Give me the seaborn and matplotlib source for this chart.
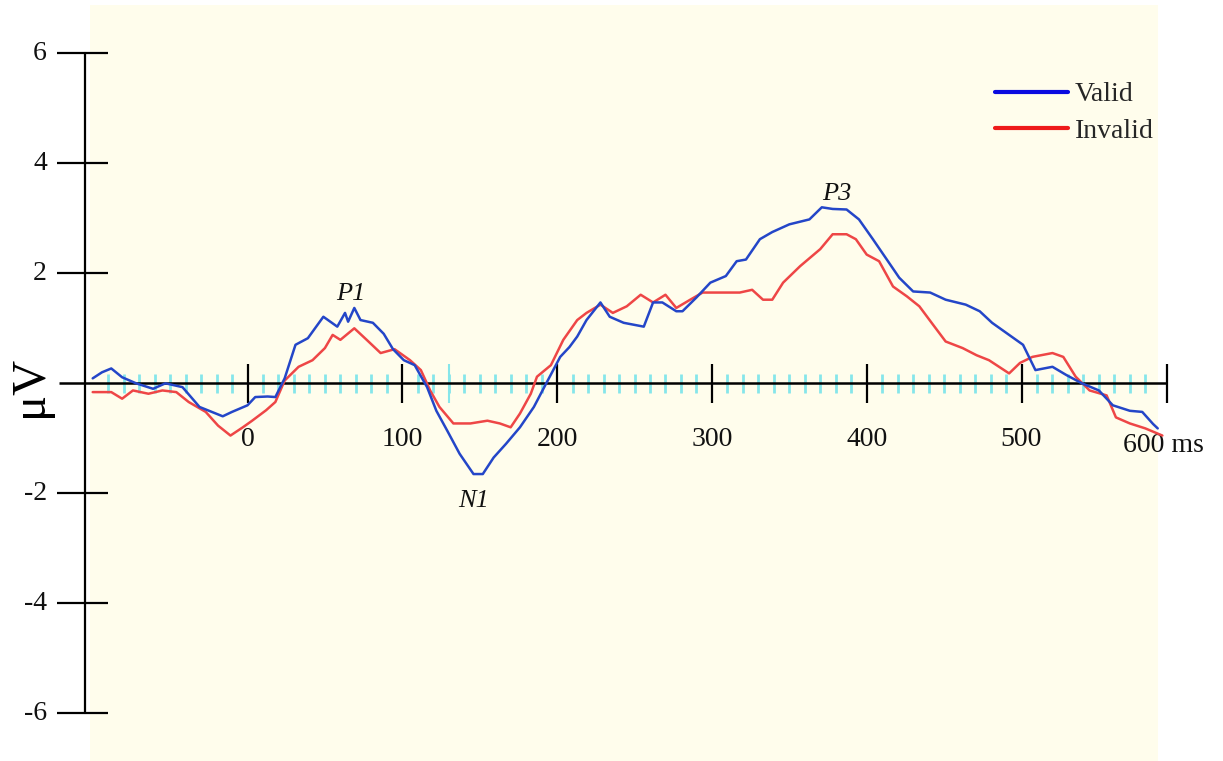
import numpy as np
import pandas as pd
import matplotlib
matplotlib.use("Agg")
import matplotlib.pyplot as plt
from matplotlib.lines import Line2D
import seaborn as sns

# ---------------- data ----------------
valid_t = [-100, -94, -88, -81, -72, -61, -53, -42, -31, -16, -10, 0, 5, 13, 18, 24, 31, 39,
           49, 58, 63, 65, 69, 73, 81, 88, 94, 101, 108, 116, 122, 129, 137, 146, 152, 159,
           167, 176, 185, 193, 202, 208, 213, 219, 228, 234, 243, 256, 262, 268, 277, 281,
           290, 299, 309, 316, 322, 331, 339, 350, 363, 371, 378, 387, 395, 404, 413, 421,
           430, 441, 451, 464, 473, 481, 492, 501, 509, 520, 529, 539, 550, 559, 570, 578,
           585, 588]
valid_v = [0.09, 0.20, 0.27, 0.11, 0.00, -0.10, 0.00, -0.07, -0.43, -0.60, -0.52, -0.40, -0.25,
           -0.24, -0.25, 0.09, 0.70, 0.82, 1.21, 1.03, 1.28, 1.12, 1.37, 1.15, 1.10, 0.90, 0.62,
           0.42, 0.33, -0.07, -0.50, -0.86, -1.28, -1.65, -1.65, -1.35, -1.10, -0.80, -0.43,
           0.00, 0.48, 0.66, 0.85, 1.15, 1.47, 1.21, 1.10, 1.03, 1.47, 1.47, 1.31, 1.31, 1.56,
           1.83, 1.95, 2.22, 2.25, 2.62, 2.75, 2.89, 2.98, 3.20, 3.17, 3.16, 2.98, 2.62, 2.25,
           1.92, 1.67, 1.65, 1.52, 1.43, 1.31, 1.10, 0.88, 0.70, 0.24, 0.30, 0.15, 0.00, -0.13,
           -0.40, -0.50, -0.52, -0.74, -0.82]

invalid_t = [-100, -88, -81, -74, -64, -55, -46, -38, -27, -19, -11, -3, 3, 12, 18, 24, 33, 42,
             50, 55, 60, 69, 77, 86, 95, 105, 112, 118, 124, 133, 144, 155, 163, 170, 176, 183,
             187, 196, 204, 213, 219, 228, 236, 245, 254, 262, 270, 277, 286, 294, 305, 318,
             326, 333, 339, 346, 357, 370, 378, 387, 393, 400, 408, 417, 426, 434, 443, 451,
             462, 471, 479, 492, 499, 507, 520, 527, 535, 544, 555, 561, 570, 580, 591]
invalid_v = [-0.16, -0.16, -0.28, -0.13, -0.19, -0.13, -0.16, -0.34, -0.52, -0.77, -0.95, -0.80,
             -0.68, -0.49, -0.34, 0.05, 0.30, 0.42, 0.64, 0.88, 0.79, 1.00, 0.79, 0.55, 0.62,
             0.42, 0.24, -0.13, -0.43, -0.73, -0.73, -0.68, -0.73, -0.80, -0.55, -0.19, 0.12,
             0.33, 0.79, 1.15, 1.28, 1.43, 1.28, 1.40, 1.61, 1.47, 1.61, 1.37, 1.52, 1.65, 1.65,
             1.65, 1.70, 1.52, 1.52, 1.83, 2.13, 2.44, 2.71, 2.71, 2.62, 2.34, 2.22, 1.76, 1.58,
             1.40, 1.06, 0.76, 0.64, 0.51, 0.42, 0.18, 0.37, 0.48, 0.55, 0.48, 0.12, -0.13,
             -0.22, -0.62, -0.73, -0.82, -0.95]

conditions = ["Valid", "Invalid"]
y_ticks = [6, 4, 2, -2, -4, -6]
x_ticks = [0, 100, 200, 300, 400, 500]
x_tick_labels = ["0", "100", "200", "300", "400", "500"]
x_end_label = "600 ms"
peaks = [("P1", 67, 1.62), ("N1", 146, -2.14), ("P3", 381, 3.44)]

# ---------------- styling ----------------
sns.set_theme(style="white")
plt.rcParams["font.family"] = ["Liberation Serif", "DejaVu Serif"]

line_colors = {"Valid": "#2446C8", "Invalid": "#EE4646"}
legend_colors = {"Valid": "#0A0AE0", "Invalid": "#EE1A1A"}
cream = "#FFFDEC"
cyan = "#86E6EA"
txt = "#111111"

W, H = 1223, 761
fig = plt.figure(figsize=(W / 100, H / 100), dpi=100)
fig.patch.set_facecolor("white")
ax = fig.add_axes([0, 0, 1, 1])

# pixel <-> data mapping of the reference layout
px_per_ms = 1.548
x0_px = 247.5
px_per_uv = 55.0
y0_px = 383.3


def tx(px):
    return (px - x0_px) / px_per_ms


def ty(py):
    return (y0_px - py) / px_per_uv


ax.set_xlim(tx(0), tx(W))
ax.set_ylim(ty(H), ty(0))

# cream plotting area
ax.axvspan(tx(90), tx(1158), ymin=0, ymax=(ty(5) - ty(H)) / (ty(0) - ty(H)),
           color=cream, zorder=0, lw=0)

# cyan minor ticks every 10 ms
minor = [m for m in range(-90, 590, 10) if m % 100 != 0]
ax.vlines(minor, -0.17, 0.17, color=cyan, lw=2, zorder=1)
ax.vlines([130], -0.36, 0.36, color=cyan, lw=1.5, zorder=1)

# x axis
x_end = 594
ax.plot([tx(59), x_end], [0, 0], color="black", lw=1.8, zorder=2, solid_capstyle="butt")
ax.vlines(x_ticks + [x_end], -0.35, 0.35, color="black", lw=1.6, zorder=2)
for t, lab in zip(x_ticks, x_tick_labels):
    ax.text(t, ty(440), lab, ha="center", va="center", fontsize=20, color=txt)
ax.text(x_end - 2, ty(445), x_end_label, ha="center", va="center", fontsize=20, color=txt)

# y axis
ax.plot([tx(84.5), tx(84.5)], [-6, 6], color="black", lw=1.6, zorder=2)
ax.hlines(y_ticks, tx(57), tx(108), color="black", lw=1.6, zorder=2)
for v in y_ticks:
    ax.text(tx(47), v, f"{v}", ha="right", va="center", fontsize=20, color=txt)

ax.text(tx(30), ty(386), "μV", rotation=90, ha="center", va="center", fontsize=35,
        color="black")

# waveforms
df = pd.concat([
    pd.DataFrame({"t": valid_t, "v": valid_v, "cond": "Valid"}),
    pd.DataFrame({"t": invalid_t, "v": invalid_v, "cond": "Invalid"}),
], ignore_index=True)
sns.lineplot(data=df, x="t", y="v", hue="cond", hue_order=["Invalid", "Valid"],
             palette=line_colors, estimator=None, sort=False, lw=1.8, legend=False,
             ax=ax, zorder=3)

# peak labels
for name, t, v in peaks:
    ax.text(t, v, name, ha="center", va="center", fontsize=19, style="italic", color=txt)

# legend
handles = [Line2D([0], [0], color=legend_colors[c], lw=3) for c in conditions]
ax.legend(handles, conditions, loc="upper left",
          bbox_to_anchor=(995 / W, 1 - 82 / H), bbox_transform=fig.transFigure,
          frameon=False, fontsize=20, handlelength=2.63, handletextpad=0.25,
          labelspacing=0.39, borderpad=0, borderaxespad=0)

ax.axis("off")
fig.savefig("out.png", dpi=100, facecolor="white")
